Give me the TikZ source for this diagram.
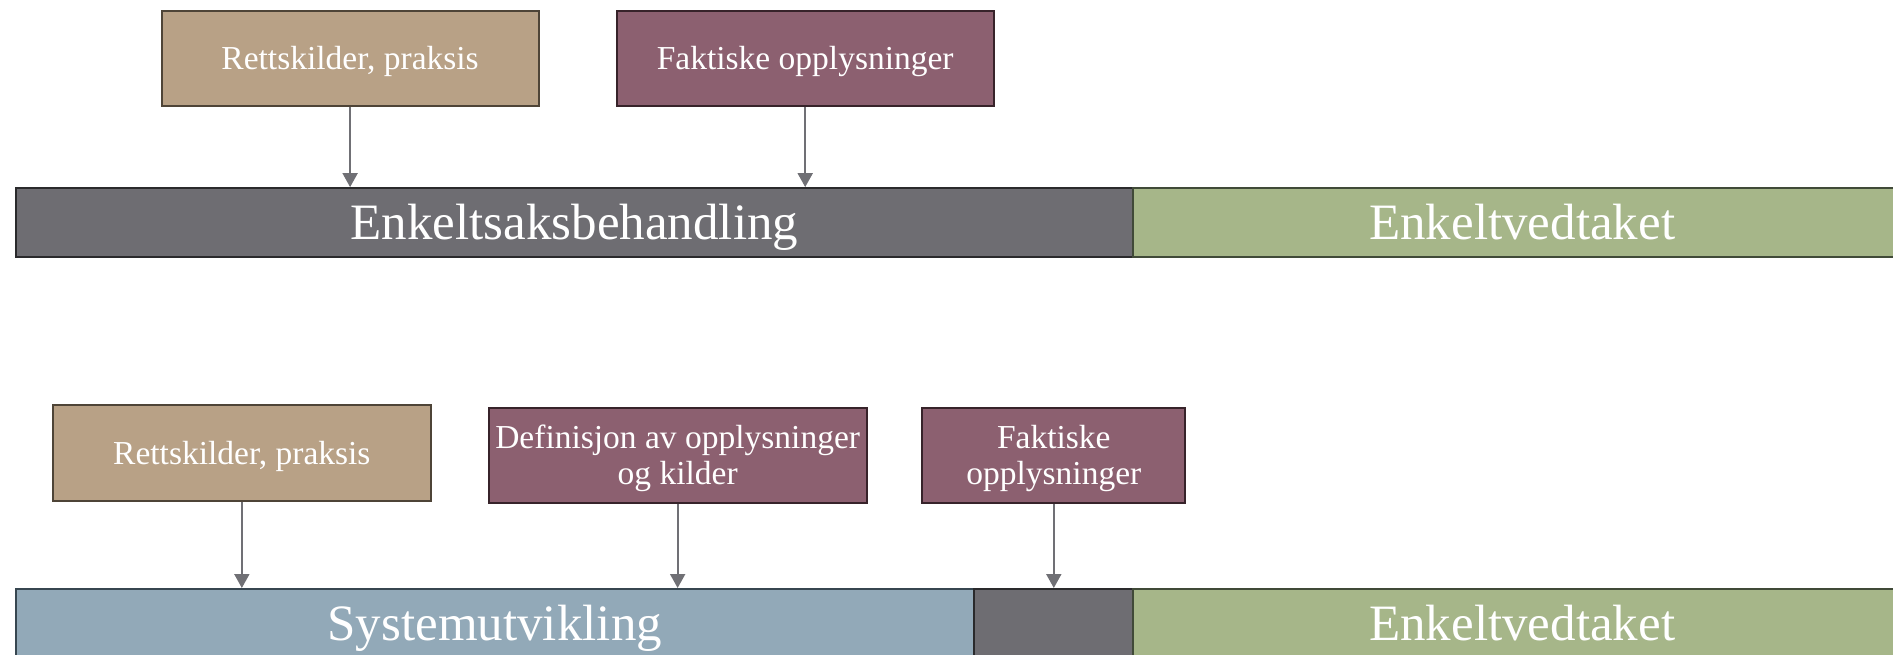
\documentclass[tikz,border=0pt]{standalone}
\usepackage{fontspec}
\setmainfont{Liberation Serif}
\usetikzlibrary{arrows.meta}

\definecolor{kildefarge}{HTML}{B8A186}
\definecolor{kildekant}{HTML}{4E4437}
\definecolor{faktafarge}{HTML}{8C6070}
\definecolor{faktakant}{HTML}{37232A}
\definecolor{saksfarge}{HTML}{6E6D72}
\definecolor{sakskant}{HTML}{2A2A2C}
\definecolor{vedtaksfarge}{HTML}{A6B689}
\definecolor{vedtakskant}{HTML}{404A38}
\definecolor{systemfarge}{HTML}{92A9B8}
\definecolor{systemkant}{HTML}{374650}
\definecolor{pilfarge}{HTML}{707075}

\tikzset{
  boks/.style = {line width = 2pt, text = white, inner sep = 0pt, align = center,
    anchor = north west, minimum width = 377pt, minimum height = 95.3pt,
    text height = 22.2pt, text depth = 0pt,
    font = \fontsize{33.5}{35.5}\selectfont},
  tolinjer/.style = {text height = 57.7pt},
  kilde/.style = {boks, fill = kildefarge, draw = kildekant},
  fakta/.style = {boks, fill = faktafarge, draw = faktakant},
  felt/.style = {line width = 2pt, text = white, inner sep = 0pt, anchor = north west,
    minimum height = 69pt, text height = 33.8pt, text depth = 0pt,
    font = \fontsize{51}{55}\selectfont},
  pil/.style = {draw = pilfarge, line width = 2pt, -{Triangle[length = 14pt, width = 15pt]}}
}

\begin{document}
\begin{tikzpicture}[x = 1pt, y = -1pt]
  \useasboundingbox (0, 0) rectangle (1893, 654);
  \clip (0, 0) rectangle (1893, 654);

  % forste rad
  \node[kilde] (rett1) at (160.6, 9.7) {Rettskilder, praksis};
  \node[fakta] (fakta1) at (615.7, 9.7) {Faktiske opplysninger};
  \node[felt, fill = saksfarge, draw = sakskant, minimum width = 1117.9pt] (saks) at (14.5, 187.1) {Enkeltsaksbehandling};
  \node[felt, fill = vedtaksfarge, draw = vedtakskant, minimum width = 777.6pt] (vedtak1) at (1132.4, 187.1) {Enkeltvedtaket};

  \draw[pil] (rett1.south) -- (rett1.south |- saks.north);
  \draw[pil] (fakta1.south) -- (fakta1.south |- saks.north);

  % andre rad
  \node[kilde, minimum width = 377.9pt] (rett2) at (51.9, 404.4) {Rettskilder, praksis};
  \node[fakta, tolinjer, minimum width = 377.9pt] (def2) at (487.7, 406.9) {Definisjon av opplysninger\\og kilder};
  \node[fakta, tolinjer, minimum width = 263.2pt] (fakta2) at (921.2, 406.9) {Faktiske\\opplysninger};
  \node[felt, fill = systemfarge, draw = systemkant, minimum width = 958.6pt] (system) at (14.5, 588) {Systemutvikling};
  \node[felt, fill = saksfarge, draw = sakskant, minimum width = 159.3pt] (saks2) at (973.1, 588) {};
  \node[felt, fill = vedtaksfarge, draw = vedtakskant, minimum width = 777.6pt] (vedtak2) at (1132.4, 588) {Enkeltvedtaket};

  \draw[pil] (rett2.south) -- (rett2.south |- system.north);
  \draw[pil] (def2.south) -- (def2.south |- system.north);
  \draw[pil] (fakta2.south) -- (fakta2.south |- saks2.north);
\end{tikzpicture}
\end{document}
